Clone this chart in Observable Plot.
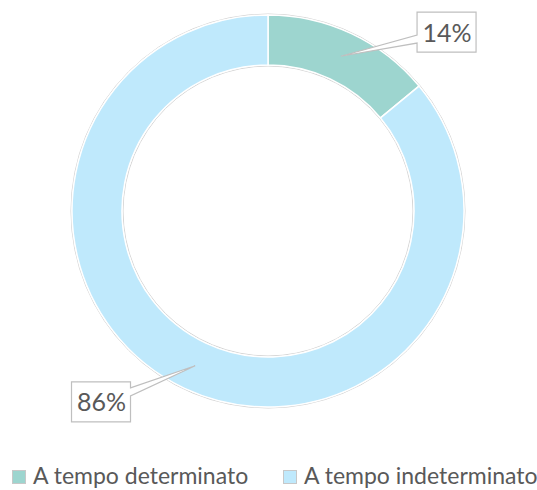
<!DOCTYPE html>
<html><head><meta charset="utf-8">
<script src="https://cdn.jsdelivr.net/npm/d3@7"></script>
<script src="https://cdn.jsdelivr.net/npm/@observablehq/plot@0.6"></script>
<style>
body{margin:0;background:#fff;font-family:Lato,"Open Sans",sans-serif;overflow:hidden;}
#chart svg{display:block;}
#legend{position:relative;width:537px;height:29px;color:#595959;font-size:23px;line-height:28px;}
#legend .item{position:absolute;top:0;white-space:nowrap;}
#legend .sw{position:absolute;top:9px;width:12px;height:12px;border:1px solid #c8c8c8;}
#legend .lab{position:absolute;top:0;}
</style></head><body>
<div id="chart"></div>
<div id="legend"></div>
<script>
// ---- data ----
const categories = ["A tempo determinato", "A tempo indeterminato"];
const values = [14, 86];
const colors = ["#9dd5cf", "#bfe9fc"];

// ---- layout (data units: ring outer radius = 1) ----
const innerRatio = 146 / 196;
const labelPos = [[0.911, 0.913], [-0.852, -0.974]];
const boxW = 59, boxH = 40;

const data = categories.map((c, i) => ({category: c, value: values[i]}));
const total = d3.sum(values);
const arcs = d3.pie().value(d => d.value).sort(null)(data);
const labels = data.map((d, i) => ({
  text: Math.round(d.value / total * 100) + "%",
  x: labelPos[i][0], y: labelPos[i][1], arc: arcs[i], category: d.category
}));

function donut(index, scales) {
  const cx = scales.x(0), cy = scales.y(0);
  const R = scales.x(1) - scales.x(0), r = R * innerRatio;
  const g = d3.create("svg:g").attr("transform", `translate(${cx},${cy})`);
  g.append("circle").attr("r", R + 1).attr("fill", "none").attr("stroke", "#d4d4d4").attr("stroke-width", 1);
  g.append("circle").attr("r", r - 1).attr("fill", "none").attr("stroke", "#d4d4d4").attr("stroke-width", 1);
  const arc = d3.arc().innerRadius(r).outerRadius(R);
  g.selectAll("path").data(arcs).join("path")
    .attr("d", arc)
    .attr("fill", d => scales.color(d.data.category))
    .attr("stroke", "#fff").attr("stroke-width", 1.5);
  return g.node();
}

function callouts(index, scales) {
  const cx = scales.x(0), cy = scales.y(0);
  const R = scales.x(1) - scales.x(0), r = R * innerRatio;
  const arc = d3.arc().innerRadius(r).outerRadius(R);
  const g = d3.create("svg:g");
  labels.forEach(l => {
    const [tx0, ty0] = arc.centroid(l.arc);
    const tx = cx + tx0, ty = cy + ty0;
    const bx = scales.x(l.x), by = scales.y(l.y);
    const x0 = bx - boxW / 2, x1 = bx + boxW / 2, y0 = by - boxH / 2, y1 = by + boxH / 2;
    let pts;
    if (tx < x0) {
      pts = [[x0,y0],[x1,y0],[x1,y1],[x0,y1],[x0,y0+31],[tx,ty],[x0,y0+23]];
    } else {
      pts = [[x0,y0],[x1,y0],[x1,y0+6],[tx,ty],[x1,y0+14],[x1,y1],[x0,y1]];
    }
    g.append("path").attr("d", "M" + pts.map(p => p.join(",")).join("L") + "Z")
      .attr("fill", "#fff").attr("stroke", "#bfbfbf").attr("stroke-width", 1.2)
      .attr("stroke-linejoin", "miter");
  });
  return g.node();
}

const chart = Plot.plot({
  width: 537, height: 461,
  margin: 0,
  style: {background: "#fff", fontFamily: "Lato, 'Open Sans', sans-serif"},
  x: {domain: [-1, 1], range: [72, 464], axis: null},
  y: {domain: [-1, 1], range: [407, 15], axis: null},
  color: {domain: categories, range: colors},
  marks: [
    Plot.dot(data, {x: () => 0, y: () => 0, fill: "category", r: 0}),
    donut,
    callouts,
    Plot.text(labels, {x: "x", y: "y", text: "text", fontSize: 25, fill: "#595959", dy: 1})
  ]
});
document.getElementById("chart").append(chart);

const legendX = [12, 283];
const lg = document.getElementById("legend");
categories.forEach((c, i) => {
  const it = document.createElement("div");
  it.className = "item";
  it.style.left = legendX[i] + "px";
  it.innerHTML = `<span class="sw" style="left:0;background:${colors[i]}"></span><span class="lab" style="left:21px">${c}</span>`;
  lg.append(it);
});
</script></body></html>
